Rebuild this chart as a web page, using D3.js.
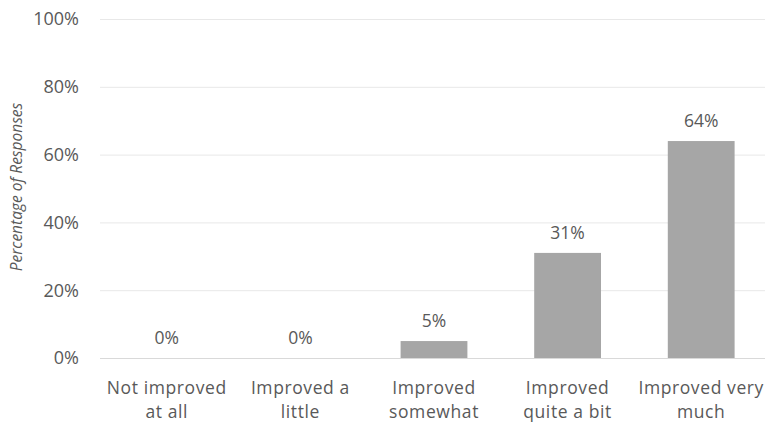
<!DOCTYPE html>
<html>
<head>
<meta charset="utf-8">
<script src="https://cdn.jsdelivr.net/npm/d3@7"></script>
<style>
  html, body { margin: 0; padding: 0; background: #fff; }
  svg { display: block; font-family: "Open Sans", sans-serif; }
</style>
</head>
<body>
<svg id="chart" width="765" height="425"></svg>
<script>
// Responses by improvement level
const categories = [
  ["Not improved", "at all"],
  ["Improved a", "little"],
  ["Improved", "somewhat"],
  ["Improved", "quite a bit"],
  ["Improved very", "much"]
];
const values = [0, 0, 5, 31, 64];
const yTicks = [0, 20, 40, 60, 80, 100];
const yTitle = "Percentage of Responses";

const svg = d3.select("#chart");
const textColor = "#595959";

const x = d3.scaleBand()
  .domain(d3.range(categories.length))
  .range([100, 768])
  .paddingInner(0.5)
  .paddingOuter(0.25);

const y = d3.scaleLinear().domain([0, 100]).range([358, 19]);

// Horizontal gridlines
svg.append("g")
  .selectAll("line")
  .data(yTicks)
  .join("line")
  .attr("x1", 100)
  .attr("x2", 765)
  .attr("y1", d => y(d) + 0.5)
  .attr("y2", d => y(d) + 0.5)
  .attr("stroke", d => d === 0 ? "#d9d9d9" : "#e8e8e8")
  .attr("stroke-width", 1);

// Y tick labels
svg.append("g")
  .selectAll("text")
  .data(yTicks)
  .join("text")
  .attr("x", 79)
  .attr("y", d => y(d))
  .attr("dy", "0.35em")
  .attr("text-anchor", "end")
  .attr("fill", textColor)
  .attr("font-size", 18)
  .text(d => d + "%");

// Y axis title
svg.append("text")
  .attr("transform", "translate(17,187) rotate(-90)")
  .attr("text-anchor", "middle")
  .attr("dy", "0.35em")
  .attr("font-size", 15.5)
  .attr("font-style", "italic")
  .attr("fill", textColor)
  .text(yTitle);

// Bars
svg.append("g")
  .selectAll("rect")
  .data(values)
  .join("rect")
  .attr("x", (d, i) => x(i))
  .attr("width", x.bandwidth())
  .attr("y", d => y(d))
  .attr("height", d => y(0) - y(d))
  .attr("fill", "#a6a6a6");

// Value labels
svg.append("g")
  .selectAll("text")
  .data(values)
  .join("text")
  .attr("x", (d, i) => x(i) + x.bandwidth() / 2)
  .attr("y", d => y(d) - 14)
  .attr("text-anchor", "middle")
  .attr("fill", textColor)
  .attr("font-size", 17.5)
  .text(d => d + "%");

// Category labels, one text element per line
const lines = categories.flatMap((c, i) => c.map((t, j) => ({ i, j, t })));
svg.append("g")
  .selectAll("text")
  .data(lines)
  .join("text")
  .attr("x", d => x(d.i) + x.bandwidth() / 2)
  .attr("y", d => 394 + d.j * 24)
  .attr("text-anchor", "middle")
  .attr("fill", textColor)
  .attr("font-size", 17.5)
  .attr("letter-spacing", 0.6)
  .text(d => d.t);
</script>
</body>
</html>
